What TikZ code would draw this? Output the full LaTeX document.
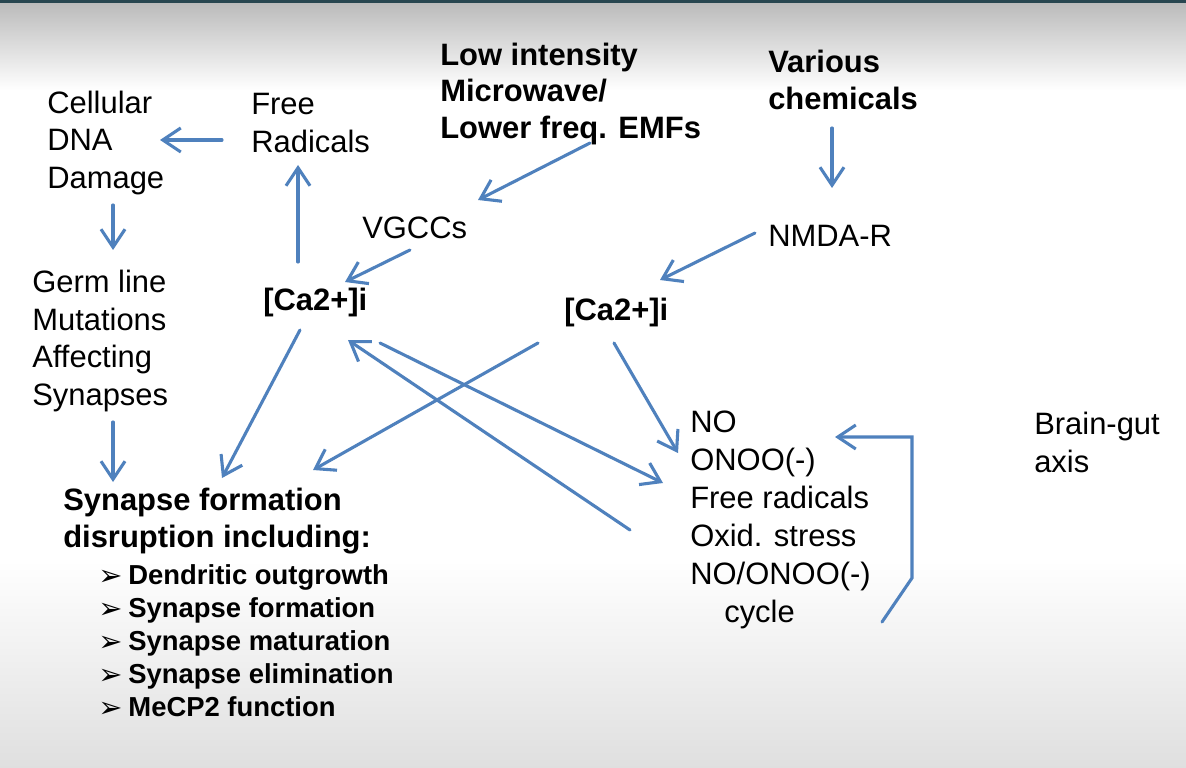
\documentclass[tikz,border=0pt]{standalone}
\usepackage{fontspec}
\setmainfont{Liberation Sans}
\newfontfamily\symfont{DejaVu Sans}
\usetikzlibrary{arrows.meta,calc}
\definecolor{linkblue}{RGB}{79,129,189}
\definecolor{topbar}{RGB}{40,70,80}
\newcommand\bul{\raisebox{-0.5pt}{\fontsize{20.5}{20.5}\symfont ➢}\hspace{0.15cm}}

\begin{document}
\begin{tikzpicture}[x=0.025cm, y=-0.025cm,
  every node/.style={anchor=west, inner sep=0pt, align=left, font=\fontsize{22}{27}\selectfont},
  head/.style={font=\fontsize{22}{26}\selectfont\bfseries},
  items/.style={font=\fontsize{19.5}{23.5}\selectfont\bfseries},
  link/.style={draw=linkblue, line width=2.2pt, line cap=round, -{Straight Barb[length=4.5mm,width=6mm]}}]
  % slide background
  \fill[white] (0,0) rectangle (1186,768);
  \shade[top color=gray!55, bottom color=white] (0,0) rectangle (1186,90);
  \shade[top color=white, bottom color=gray!25] (0,560) rectangle (1186,768);
  \fill[topbar] (0,0) rectangle (1186,3);
  \useasboundingbox (0,0) rectangle (1186,768);

  % texts
  \node (dna) at (47,143) {Cellular\\DNA\\Damage};
  \node (free) at (251,123) {Free\\Radicals};
  \node[head] (lowint) at (440,94) {Low intensity\\Microwave/\\Lower freq. EMFs};
  \node[head] (various) at (768,80) {Various\\chemicals};
  \node (vgcc) at (362,228) {VGCCs};
  \node (nmda) at (768,236) {NMDA-R};
  \node (germ) at (32,341) {Germ line\\Mutations\\Affecting\\Synapses};
  \node[head] (caL) at (263,303) {[Ca2+]i};
  \node[head] (caR) at (564,313) {[Ca2+]i};
  \node (no) at (690,520) {NO\\ONOO(-)\\Free radicals\\Oxid. stress\\NO/ONOO(-)\\\hspace*{0.85cm}cycle};
  \node (brain) at (1034,442) {Brain-gut\\axis};
  \node[head] (syn) at (63,521) {Synapse formation\\disruption including:};
  \node[items] (list) at (98,641) {\bul Dendritic outgrowth\\\bul Synapse formation\\\bul Synapse maturation\\\bul Synapse elimination\\\bul MeCP2 function};

  % arrows
  \draw[link] ($(free.west)+(-29,17)$) -- ($(dna.west)+(113,-3)$);
  \draw[link] ($(dna.west)+(66,62)$) -- ($(germ.west)+(81,-91)$);
  \draw[link] ($(germ.west)+(81,81)$) -- ($(syn.west)+(50,-39)$);
  \draw[link] ($(caL.west)+(35,-41)$) -- ($(free.west)+(47,42)$);
  \draw[link] ($(lowint.west)+(150,49)$) -- ($(vgcc.west)+(116,-28)$);
  \draw[link] ($(vgcc.west)+(48,22)$) -- ($(caL.west)+(82,-21)$);
  \draw[link] ($(various.west)+(64,48)$) -- ($(nmda.west)+(64,-48)$);
  \draw[link] ($(nmda.west)+(-13,-3)$) -- ($(caR.west)+(96,-33)$);
  \draw[link] ($(caL.west)+(37,27)$) -- ($(syn.west)+(159,-43)$);
  \draw[link] ($(caR.west)+(-26,30)$) -- ($(syn.west)+(250,-51)$);
  \draw[link] ($(caR.west)+(50,30)$) -- ($(no.west)+(-12,-67)$);
  \draw[link] ($(caL.west)+(117,40)$) -- ($(no.west)+(-27,-37)$);
  \draw[link] ($(no.west)+(-60,10)$) -- ($(caL.west)+(85,37)$);
  \draw[link] ($(no.west)+(192,102)$) -- ($(no.west)+(222,58)$) -- ($(no.west)+(222,-83)$) -- ($(no.west)+(145,-83)$);
\end{tikzpicture}
\end{document}
